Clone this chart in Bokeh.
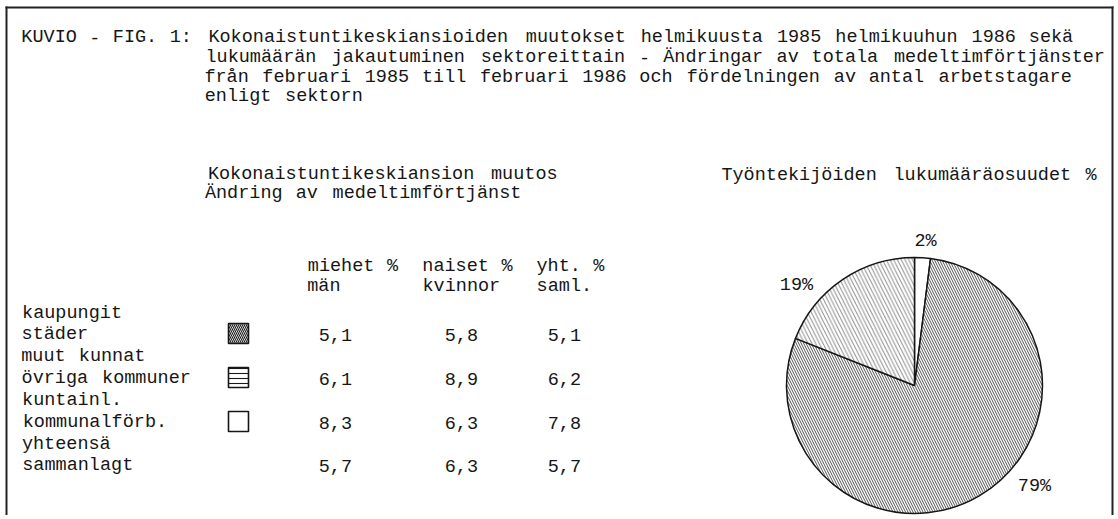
import re
import math
from bokeh.plotting import figure
from bokeh.models import Range1d, ColumnDataSource
from bokeh.core.properties import value
from bokeh.embed import file_html
from bokeh.resources import INLINE

# ---------------- data ----------------
title_lines = [
    "KUVIO - FIG. 1: Kokonaistuntikeskiansioiden muutokset helmikuusta 1985 helmikuuhun 1986 sekä",
    "lukumäärän jakautuminen sektoreittain - Ändringar av totala medeltimförtjänster",
    "från februari 1985 till februari 1986 och fördelningen av antal arbetstagare",
    "enligt sektorn",
]
table_title = ["Kokonaistuntikeskiansion muutos", "Ändring av medeltimförtjänst"]
pie_title = "Työntekijöiden lukumääräosuudet %"
col_head_fi = ["miehet %", "naiset %", "yht. %"]
col_head_sv = ["män", "kvinnor", "saml."]
sectors_fi = ["kaupungit", "muut kunnat", "kuntainl."]
sectors_sv = ["städer", "övriga kommuner", "kommunalförb."]
total_fi = "yhteensä"
total_sv = "sammanlagt"
men = [5.1, 6.1, 8.3]
women = [5.8, 8.9, 6.3]
both = [5.1, 6.2, 7.8]
total_row = [5.7, 6.3, 5.7]
shares = [79, 19, 2]          # % of employees, same order as sectors
pie_order = [2, 0, 1]         # clockwise from 12 o'clock

# ---------------- layout / style ----------------
W, H = 1114, 515
REF_H = 519
X0, PITCH = 20.0, 11.45
FONT = value("Liberation Mono")
FS = "18.5px"
INK = "#161616"
DIGIT_LIFT = 1.5   # digit-only words are vertically placed by cap height

def Y(py):
    return REF_H - py

p = figure(width=W, height=H, output_backend="svg", toolbar_location=None,
           x_range=Range1d(0, W), y_range=Range1d(REF_H - H, REF_H),
           min_border=0, background_fill_color="white", border_fill_color="white")
p.axis.visible = False
p.xgrid.visible = False
p.ygrid.visible = False
p.outline_line_color = None

# frame of the figure
p.segment(x0=[5, 6, 1112], y0=[Y(7), Y(6), Y(6)], x1=[1113, 6, 1112], y1=[Y(7), 0, 0],
          line_color="#222222", line_width=2)

xs, ys, ts = [], [], []

def put(line, col, py):
    for m in re.finditer(r"\S+", line):
        w = m.group()
        c = col + m.start() + len(w) / 2.0
        xs.append(X0 + c * PITCH)
        ys.append(Y(py) + (DIGIT_LIFT if w.isdigit() else 0.0))
        ts.append(w)

# titles
title_rows = [37, 57, 77, 96]
put(title_lines[0], 0, title_rows[0])
for ln, py in zip(title_lines[1:], title_rows[1:]):
    put(ln, 16, py)
put(table_title[0], 16, 174)
put(table_title[1], 16, 193)
put(pie_title, 61, 175)

# column headers
head_cols = [25, 35, 45]
for h1, h2, c in zip(col_head_fi, col_head_sv, head_cols):
    put(h1, c, 266)
    put(h2, c, 286)

# rows
label_rows = [(313, 334), (356, 378), (400, 422)]
val_cols = [26, 37, 46]
fmt = lambda v: f"{v:.1f}".replace(".", ",")
for i in range(3):
    put(sectors_fi[i], 0, label_rows[i][0])
    put(sectors_sv[i], 0, label_rows[i][1])
    for vals, c in zip((men, women, both), val_cols):
        put(fmt(vals[i]), c, label_rows[i][1])
put(total_fi, 0, 444)
put(total_sv, 0, 465)
for v, c in zip(total_row, val_cols):
    put(fmt(v), c, 465)

# pie
patterns = ["left_diagonal_line", "left_diagonal_line", " "]
hscales = [5.0, 7.5, 8.0]
halpha = [0.75, 0.5, 1.0]
fills = ["white", "white", "white"]

CX, CY, R = 914, Y(385), 128
starts, ends, pat, hs, fc, ha = [], [], [], [], [], []
a = 90.0
for k in pie_order:
    b = a - shares[k] * 3.6
    starts.append(math.radians(a))
    ends.append(math.radians(b))
    pat.append(patterns[k]); hs.append(hscales[k]); fc.append(fills[k]); ha.append(halpha[k])
    a = b
pie_src = ColumnDataSource(dict(s=starts, e=ends, pat=pat, hs=hs, fc=fc, ha=ha))
p.wedge(x=CX, y=CY, radius=R, start_angle="s", end_angle="e", direction="clock",
        source=pie_src, fill_color="fc", line_color=INK, line_width=1.5,
        hatch_pattern="pat", hatch_scale="hs", hatch_weight=1.0,
        hatch_color="#1a1a1a", hatch_alpha="ha")

# pie labels (layout positions of the annotations)
lab_pos = {0: (1034, 486), 1: (796, 285), 2: (925, 241)}
for k in range(3):
    xs.append(lab_pos[k][0]); ys.append(Y(lab_pos[k][1])); ts.append(f"{shares[k]}%")

# legend swatches in the table
box_src = ColumnDataSource(dict(
    x=[238] * 3, y=[Y(r[1] - 1) for r in label_rows],
    pat=["left_diagonal_line", "horizontal_line", " "], hs=[4.0, 5.0, 8.0],
    fc=["white", "white", "white"]))
p.rect(x="x", y="y", width=20, height=20, width_units="screen", height_units="screen",
       source=box_src, fill_color="fc", line_color=INK, line_width=1.6,
       hatch_pattern="pat", hatch_scale="hs", hatch_weight=1.1, hatch_color="#1a1a1a")

p.text(x=xs, y=ys, text=ts, text_font=FONT, text_font_size=FS,
       text_align="center", text_baseline="middle", text_color=INK)

open("out.html", "w").write(file_html(p, INLINE))
